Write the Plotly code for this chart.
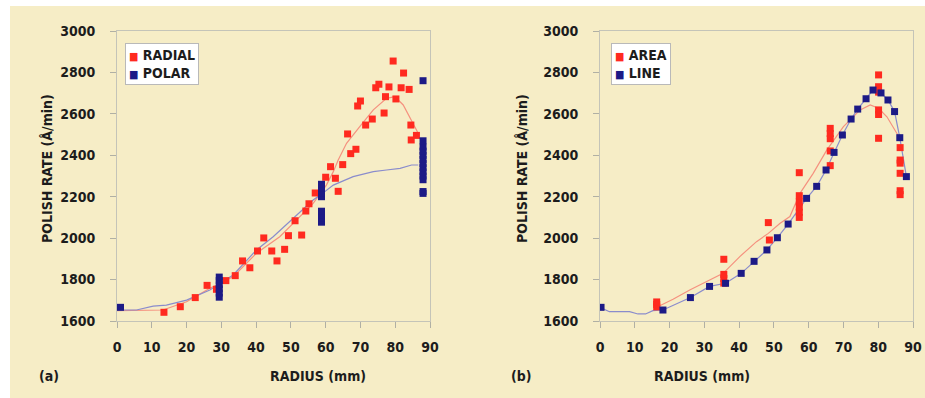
import plotly.graph_objects as go

# ---------------- data: panel (a) ----------------
radial_x = [13.5, 18.2, 22.5, 25.9, 28.6, 31.3, 34.0, 36.1, 38.2, 40.4, 42.2, 44.5, 46.0, 48.2,
            49.3, 51.2, 53.1, 54.3, 55.2, 57.0, 60.0, 61.4, 62.8, 63.6, 64.9, 66.3, 67.2, 68.7,
            69.2, 70.0, 71.5, 73.4, 74.4, 75.3, 76.8, 77.2, 78.2, 79.4, 80.2, 81.7, 82.4, 84.0,
            84.5, 84.6, 86.1]
radial_y = [1642, 1669, 1713, 1772, 1753, 1795, 1819, 1890, 1857, 1938, 2001, 1938, 1890, 1946,
            2012, 2084, 2015, 2131, 2166, 2218, 2294, 2345, 2289, 2226, 2355, 2503, 2408, 2429,
            2638, 2662, 2546, 2575, 2726, 2743, 2604, 2683, 2730, 2855, 2672, 2726, 2797, 2718,
            2546, 2474, 2496]

polar_x = [1.0,
           29.4, 29.4, 29.4, 29.4, 29.4, 29.4,
           58.8, 58.8, 58.8, 58.8, 58.8, 58.8, 58.8, 58.8,
           88.0, 88.0, 88.0, 88.0, 88.0, 88.0, 88.0, 88.0, 88.0, 88.0, 88.0, 88.0, 88.0]
polar_y = [1666,
           1715, 1735, 1755, 1775, 1795, 1812,
           2200, 2220, 2240, 2260, 2077, 2095, 2113, 2130,
           2760, 2282, 2300, 2320, 2340, 2360, 2380, 2400, 2420, 2440, 2470, 2216, 2225]

radial_fit_x = [0, 6.5, 13.2, 20, 26.7, 33.4, 40.1, 46.8, 52.5, 56.4, 60.2, 62.2, 63.6, 66,
                69.8, 73.7, 77.5, 79.9, 82.3, 84.7, 86.6]
radial_fit_y = [1650, 1650, 1653, 1693, 1758, 1814, 1927, 2007, 2104, 2168, 2256, 2321, 2377, 2458,
                2538, 2619, 2675, 2683, 2643, 2570, 2506]

polar_fit_x = [0, 5.6, 10.4, 14.2, 20, 26.7, 33.4, 40.1, 44.9, 50.6, 56.4, 59.0, 62.2, 67.9,
               73.7, 77.5, 81.4, 84.7, 86.6]
polar_fit_y = [1653, 1653, 1672, 1677, 1701, 1750, 1822, 1943, 2007, 2096, 2184, 2215, 2256, 2297,
               2321, 2329, 2337, 2353, 2353]

# ---------------- data: panel (b) ----------------
area_x = [16.3, 16.3, 16.3,
          35.6, 35.6, 35.6, 35.6,
          48.4, 48.7,
          57.3, 57.3, 57.3, 57.3, 57.3, 57.3,
          66.2, 66.2, 66.2, 66.2, 66.2,
          80.1, 80.1, 80.1, 80.1, 80.1, 80.1,
          86.3, 86.3, 86.3, 86.3, 86.3, 86.3]
area_y = [1668, 1680, 1692,
          1898, 1783, 1805, 1825,
          2075, 1991,
          2316, 2100, 2125, 2150, 2175, 2205,
          2530, 2505, 2480, 2421, 2350,
          2788, 2731, 2705, 2619, 2597, 2482,
          2437, 2377, 2362, 2313, 2229, 2210]

line_x = [0.3, 18.1, 26.0, 31.5, 36.1, 40.6, 44.3, 48.0, 51.0, 54.1, 59.4, 62.3, 65.0, 67.3,
          69.7, 72.2, 74.1, 76.5, 78.5, 80.8, 82.8, 84.7, 86.2, 88.1]
line_y = [1666, 1653, 1713, 1767, 1782, 1830, 1888, 1943, 2002, 2068, 2192, 2250, 2329, 2414,
          2498, 2575, 2623, 2673, 2715, 2701, 2667, 2611, 2485, 2297]

area_fit_x = [16.3, 21, 25.8, 30.6, 35.4, 40.2, 45, 48.4, 51.7, 54.6, 57.5, 61.3, 65.2, 70,
              74.8, 77.7, 80.1, 82.5, 84.9, 86.5]
area_fit_y = [1666, 1705, 1750, 1790, 1830, 1911, 1983, 2023, 2071, 2104, 2216, 2313, 2425, 2538,
              2619, 2643, 2627, 2586, 2522, 2474]

line_fit_x = [0, 2.7, 8.5, 10.9, 13.1, 15.2, 18.1, 26.0, 31.5, 36.1, 40.6, 44.3, 48.0, 51.0,
              54.1, 59.4, 62.3, 65.0, 67.3, 69.7, 72.2, 74.1, 76.5, 78.5, 80.8, 82.8, 84.7,
              86.2, 88.1]
line_fit_y = [1666, 1645, 1645, 1634, 1634, 1650, 1653, 1713, 1767, 1782, 1830, 1888, 1943, 2002,
              2068, 2192, 2250, 2329, 2414, 2498, 2575, 2623, 2673, 2715, 2701, 2667, 2611,
              2485, 2297]

x_ticks = [0, 10, 20, 30, 40, 50, 60, 70, 80, 90]
y_ticks = [1600, 1800, 2000, 2200, 2400, 2600, 2800, 3000]

legend_a = ["RADIAL", "POLAR"]
legend_b = ["AREA", "LINE"]

# ---------------- styling ----------------
W, H = 925, 398
FONT = "Liberation Sans Narrow, DejaVu Sans Condensed, Roboto Condensed, Arial Narrow, sans-serif"
RED = "#ff2a1f"
BLUE = "#1c1a86"
RED_LINE = "#f5917f"
BLUE_LINE = "#8a8ccc"
BEIGE = "#f6edc6"
PLOT_BG = "#f4fbfd"
TXT = "#1c1c1c"


def px(x):
    return x / W


def py(y):
    return 1 - y / H


fig = go.Figure()

# panel (a)
fig.add_trace(go.Scatter(x=radial_fit_x, y=radial_fit_y, mode="lines",
                         line=dict(color=RED_LINE, width=1.2), showlegend=False,
                         xaxis="x", yaxis="y", hoverinfo="skip"))
fig.add_trace(go.Scatter(x=polar_fit_x, y=polar_fit_y, mode="lines",
                         line=dict(color=BLUE_LINE, width=1.2), showlegend=False,
                         xaxis="x", yaxis="y", hoverinfo="skip"))
fig.add_trace(go.Scatter(x=radial_x, y=radial_y, mode="markers", name=legend_a[0],
                         marker=dict(symbol="square", size=7, color=RED),
                         xaxis="x", yaxis="y", showlegend=False))
fig.add_trace(go.Scatter(x=polar_x, y=polar_y, mode="markers", name=legend_a[1],
                         marker=dict(symbol="square", size=7, color=BLUE),
                         xaxis="x", yaxis="y", showlegend=False))

# panel (b)
fig.add_trace(go.Scatter(x=area_fit_x, y=area_fit_y, mode="lines",
                         line=dict(color=RED_LINE, width=1.2), showlegend=False,
                         xaxis="x2", yaxis="y2", hoverinfo="skip"))
fig.add_trace(go.Scatter(x=line_fit_x, y=line_fit_y, mode="lines",
                         line=dict(color=BLUE_LINE, width=1.2), showlegend=False,
                         xaxis="x2", yaxis="y2", hoverinfo="skip"))
fig.add_trace(go.Scatter(x=area_x, y=area_y, mode="markers", name=legend_b[0],
                         marker=dict(symbol="square", size=7, color=RED),
                         xaxis="x2", yaxis="y2", showlegend=False))
fig.add_trace(go.Scatter(x=line_x, y=line_y, mode="markers", name=legend_b[1],
                         marker=dict(symbol="square", size=7, color=BLUE),
                         xaxis="x2", yaxis="y2", showlegend=False))

tickfont = dict(family=FONT, size=14, color=TXT, weight="bold")


def xaxis(domain, anchor):
    return dict(domain=domain, anchor=anchor, range=[0, 90], tickvals=x_ticks,
                showgrid=False, zeroline=False, showline=True, linecolor="#c4c4b8",
                linewidth=1, mirror=True, ticks="outside", ticklen=6, tickcolor="#b0b0a4",
                tickfont=tickfont, ticklabelstandoff=7, fixedrange=True, automargin=False)


def yaxis(anchor):
    return dict(domain=[py(321), py(31)], anchor=anchor, range=[1600, 3000], tickvals=y_ticks,
                showgrid=False, zeroline=False, showline=True, linecolor="#c4c4b8",
                linewidth=1, mirror=True, ticks="outside", ticklen=6, tickcolor="#b0b0a4",
                tickfont=tickfont, ticklabelstandoff=12, fixedrange=True, automargin=False)


title_font = dict(family=FONT, size=14, color=TXT, weight="bold")


def legend_text(names):
    sq = '<span style="color:{c};font-size:11px">■</span> {n}'
    return "<br>".join([sq.format(c=RED, n=names[0]), sq.format(c=BLUE, n=names[1])])


annotations = [
    dict(text="POLISH RATE (Å/min)", x=px(37), y=py(169), xref="paper", yref="paper",
         textangle=-90, showarrow=False, font=title_font),
    dict(text="POLISH RATE (Å/min)", x=px(522), y=py(169), xref="paper", yref="paper",
         textangle=-90, showarrow=False, font=title_font),
    dict(text="RADIUS (mm)", x=px(268), y=py(386), xref="paper", yref="paper",
         showarrow=False, font=title_font),
    dict(text="RADIUS (mm)", x=px(752), y=py(386), xref="paper", yref="paper",
         showarrow=False, font=title_font),
    dict(text="(a)", x=px(37), y=py(386), xref="paper", yref="paper",
         showarrow=False, font=title_font),
    dict(text="(b)", x=px(521), y=py(386), xref="paper", yref="paper",
         showarrow=False, font=title_font),
    dict(text=legend_text(legend_a), x=px(125), y=py(43), xref="paper", yref="paper",
         xanchor="left", yanchor="top", align="left", showarrow=False,
         font=dict(family=FONT, size=14, color=TXT, weight="bold"),
         bgcolor="#ffffff", bordercolor="#b9b9b9", borderwidth=1, borderpad=3),
    dict(text=legend_text(legend_b), x=px(611), y=py(43), xref="paper", yref="paper",
         xanchor="left", yanchor="top", align="left", showarrow=False,
         font=dict(family=FONT, size=14, color=TXT, weight="bold"),
         bgcolor="#ffffff", bordercolor="#b9b9b9", borderwidth=1, borderpad=3),
]

fig.update_layout(
    width=W, height=H,
    autosize=False,
    margin=dict(l=0, r=0, t=0, b=0, pad=0, autoexpand=False),
    paper_bgcolor="#ffffff",
    plot_bgcolor=PLOT_BG,
    font=dict(family=FONT, color=TXT),
    xaxis=xaxis([px(117), px(430)], "y"),
    yaxis=yaxis("x"),
    xaxis2=xaxis([px(600), px(913)], "y2"),
    yaxis2=yaxis("x2"),
    shapes=[dict(type="rect", xref="paper", yref="paper", x0=px(10), x1=1.0,
                 y0=0, y1=py(6), fillcolor=BEIGE, line=dict(width=0), layer="below")],
    annotations=annotations,
    showlegend=False,
)

fig.write_html(
    "out.html",
    config={"displayModeBar": False},
    post_script=("document.documentElement.style.margin='0';"
                 "document.documentElement.style.overflow='hidden';"
                 "document.body.style.margin='0';"
                 "document.body.style.overflow='hidden';"),
)
